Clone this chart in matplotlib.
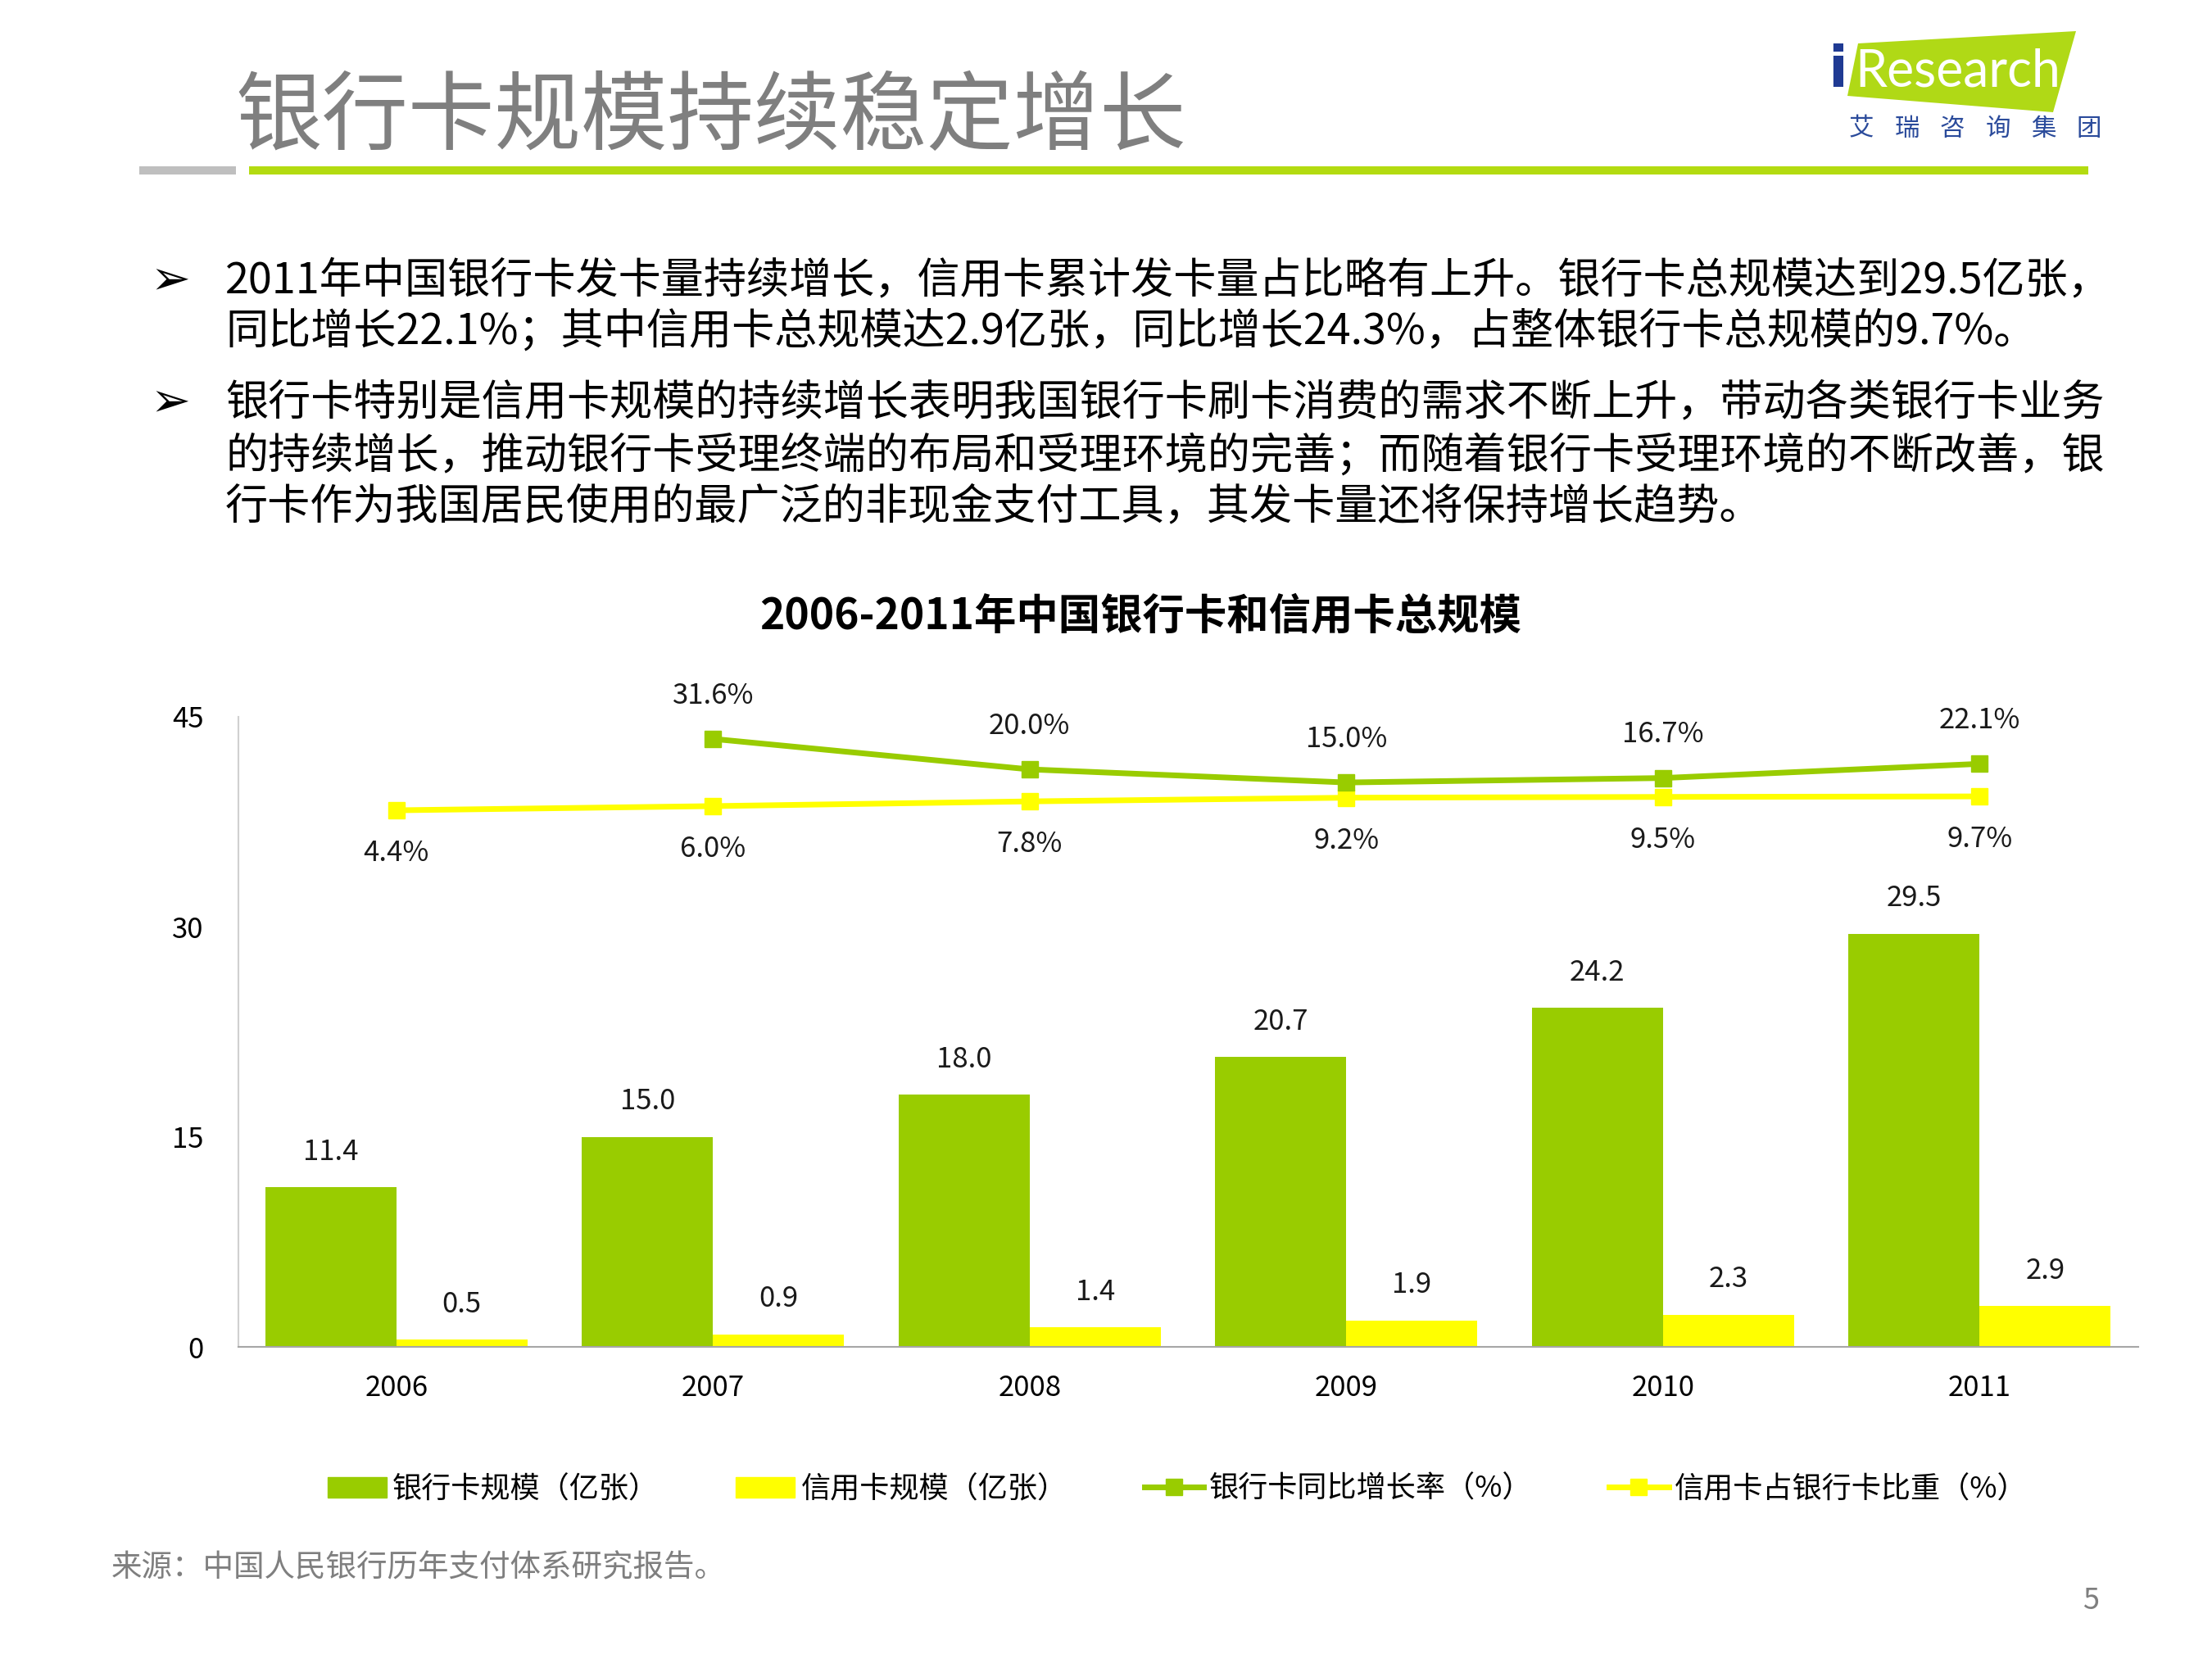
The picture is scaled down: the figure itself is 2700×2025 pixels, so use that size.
import matplotlib
matplotlib.use("Agg")
import matplotlib.pyplot as plt
from matplotlib.patches import Rectangle, Polygon
from matplotlib.lines import Line2D
from matplotlib.patches import Patch
import numpy as np

plt.rcParams['font.family'] = ['Noto Sans CJK SC', 'DejaVu Sans']

# ---------------- data ----------------
years = ['2006', '2007', '2008', '2009', '2010', '2011']
bank_cards = [11.4, 15.0, 18.0, 20.7, 24.2, 29.5]          # 亿张
credit_cards = [0.5, 0.9, 1.4, 1.9, 2.3, 2.9]              # 亿张
bank_growth = [None, 31.6, 20.0, 15.0, 16.7, 22.1]         # %
credit_share = [4.4, 6.0, 7.8, 9.2, 9.5, 9.7]              # %
yticks = [0, 15, 30, 45]

legend_labels = ['银行卡规模（亿张）', '信用卡规模（亿张）', '银行卡同比增长率（%）', '信用卡占银行卡比重（%）']
page_title = '银行卡规模持续稳定增长'
chart_title = '2006-2011年中国银行卡和信用卡总规模'
bullet_lines = [
    ['2011年中国银行卡发卡量持续增长，信用卡累计发卡量占比略有上升。银行卡总规模达到29.5亿张，',
     '同比增长22.1%；其中信用卡总规模达2.9亿张，同比增长24.3%，占整体银行卡总规模的9.7%。'],
    ['银行卡特别是信用卡规模的持续增长表明我国银行卡刷卡消费的需求不断上升，带动各类银行卡业务',
     '的持续增长，推动银行卡受理终端的布局和受理环境的完善；而随着银行卡受理环境的不断改善，银',
     '行卡作为我国居民使用的最广泛的非现金支付工具，其发卡量还将保持增长趋势。'],
]
source_text = '来源：中国人民银行历年支付体系研究报告。'

GREEN = '#99CC00'
YELLOW = '#FFFF00'
LIME = '#B3DB11'

W, H = 2700, 2025
fig = plt.figure(figsize=(27, 20.25), dpi=100)


def fx(x):
    return x / W


def fy(y):
    return 1 - y / H


# ---------------- header ----------------
fig.text(fx(287), fy(145), page_title, fontsize=76, color='#7F7F7F',
         fontweight='light', ha='left', va='center')
fig.add_artist(Rectangle((fx(170), fy(213)), fx(288) - fx(170), 10 / H,
                         transform=fig.transFigure, color='#BFBFBF', lw=0))
fig.add_artist(Rectangle((fx(304), fy(213)), fx(2549) - fx(304), 10 / H,
                         transform=fig.transFigure, color=LIME, lw=0))

# logo
logo = Polygon([(fx(2268), fy(53)), (fx(2534), fy(38)), (fx(2506), fy(137)), (fx(2255), fy(117))],
               closed=True, transform=fig.transFigure, color='#B0D916', lw=0)
fig.add_artist(logo)
fig.text(fx(2243), fy(86), 'i', fontsize=50, color='#1F3A93', fontweight='bold',
         ha='center', va='center', family=['DejaVu Sans'])
fig.text(fx(2264), fy(88), 'Research', fontsize=45, color='white',
         ha='left', va='center', family=['Lato', 'DejaVu Sans'])
for i, ch in enumerate('艾瑞咨询集团'):
    fig.text(fx(2272 + i * 55.5), fy(157), ch, fontsize=22, color='#2B4B9B',
             ha='center', va='center')

# ---------------- bullets ----------------
line_y = [[343, 405], [492, 557, 619]]
for para, ys in zip(bullet_lines, line_y):
    fig.text(fx(208), fy(ys[0]), '➢', fontsize=42, color='black', ha='center', va='center',
             family=['DejaVu Sans'])
    for txt, yy in zip(para, ys):
        fig.text(fx(275), fy(yy), txt, fontsize=37.5, color='black', ha='left', va='center')

# ---------------- chart ----------------
ax = fig.add_axes([fx(290.5), fy(1644), fx(2609.6) - fx(290.5), (1644 - 875) / H])
x = np.arange(len(years))
bw = 0.414
ax.bar(x - bw / 2, bank_cards, width=bw, color=GREEN, zorder=2)
ax.bar(x + bw / 2, credit_cards, width=bw, color=YELLOW, zorder=2)
for xi, v in zip(x, bank_cards):
    ax.annotate(f'{v:.1f}', (xi - bw / 2, v), xytext=(0, 31), textcoords='offset points',
                ha='center', va='center', fontsize=25, color='#1a1a1a')
for xi, v in zip(x, credit_cards):
    ax.annotate(f'{v:.1f}', (xi + bw / 2, v), xytext=(0, 31), textcoords='offset points',
                ha='center', va='center', fontsize=25, color='#1a1a1a')

ax.set_xlim(-0.5, len(years) - 0.5)
ax.set_ylim(0, 45)
ax.set_yticks(yticks)
ax.set_yticklabels([str(t) for t in yticks])
ax.set_xticks(x)
ax.set_xticklabels(years)
ax.tick_params(axis='y', length=0, pad=30, labelsize=25)
ax.tick_params(axis='x', length=0, pad=24, labelsize=25)
for s in ['top', 'right']:
    ax.spines[s].set_visible(False)
ax.spines['left'].set_color('#D0D0D0')
ax.spines['left'].set_linewidth(1.5)
ax.spines['bottom'].set_color('#A6A6A6')
ax.spines['bottom'].set_linewidth(1.5)

ax2 = ax.twinx()
ax2.set_ylim(-200, 40)
ax2.axis('off')
gx = [xi for xi, v in zip(x, bank_growth) if v is not None]
gv = [v for v in bank_growth if v is not None]
ax2.plot(x, credit_share, color=YELLOW, lw=5, marker='s', ms=14, zorder=3)
ax2.plot(gx, gv, color=GREEN, lw=5, marker='s', ms=14, zorder=4)
for xi, v in zip(gx, gv):
    ax2.annotate(f'{v:.1f}%', (xi, v), xytext=(0, 38), textcoords='offset points',
                 ha='center', va='center', fontsize=25, color='#1a1a1a')
for xi, v in zip(x, credit_share):
    ax2.annotate(f'{v:.1f}%', (xi, v), xytext=(0, -38), textcoords='offset points',
                 ha='center', va='center', fontsize=25, color='#1a1a1a')

fig.text(fx(1392), fy(752), chart_title, fontsize=37, fontweight='bold',
         ha='center', va='center', color='black')

handles = [Patch(color=GREEN), Patch(color=YELLOW),
           Line2D([], [], color=GREEN, lw=5, marker='s', ms=14),
           Line2D([], [], color=YELLOW, lw=5, marker='s', ms=14)]
fig.legend(handles, legend_labels, loc='center', bbox_to_anchor=(fx(1437), fy(1818)),
           ncol=4, frameon=False, fontsize=26, handlelength=2.0, handleheight=0.7,
           handletextpad=0.2, columnspacing=2.6)

fig.text(fx(136), fy(1914), source_text, fontsize=27, color='#7F7F7F', ha='left', va='center')
fig.text(fx(2552), fy(1954), '5', fontsize=26, color='#7F7F7F', ha='center', va='center')

fig.savefig('out.png', dpi=100, facecolor='white')
